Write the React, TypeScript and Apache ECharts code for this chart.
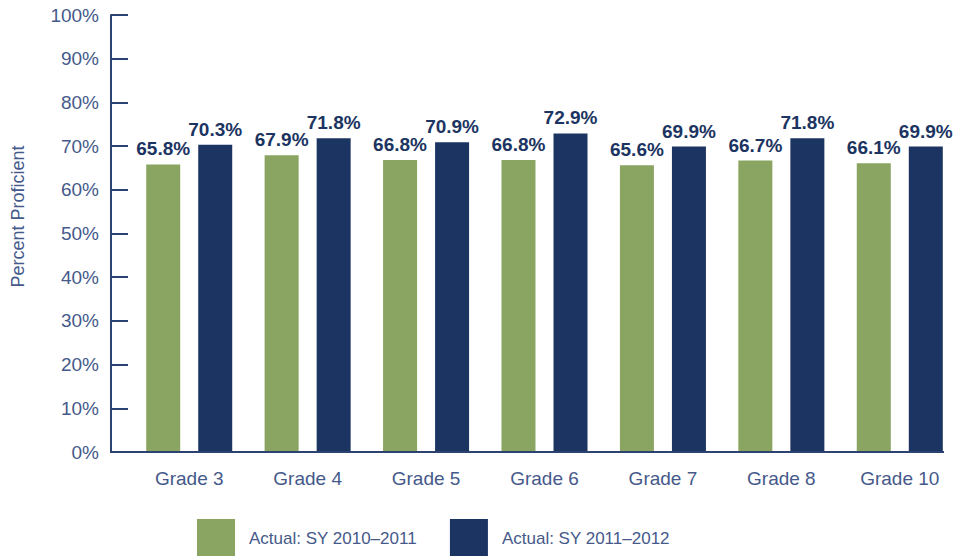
import React, { useEffect, useRef } from "react";
import * as echarts from "echarts";

const categories = ["Grade 3", "Grade 4", "Grade 5", "Grade 6", "Grade 7", "Grade 8", "Grade 10"];
const series2011 = [65.8, 67.9, 66.8, 66.8, 65.6, 66.7, 66.1];
const series2012 = [70.3, 71.8, 70.9, 72.9, 69.9, 71.8, 69.9];
const seriesNames = ["Actual: SY 2010\u20132011", "Actual: SY 2011\u20132012"];
const yTicks = [0, 10, 20, 30, 40, 50, 60, 70, 80, 90, 100];

const GREEN = "#8aa461";
const NAVY = "#1c3461";
const AXIS = "#2c4270";
const TEXT = "#45598a";
const FONT = "Liberation Sans, Arial, sans-serif";

export default function App() {
  const ref = useRef<HTMLDivElement>(null);
  useEffect(() => {
    if (!ref.current) return;
    const chart = echarts.init(ref.current, null, { renderer: "svg" });
    const label = {
      show: true,
      position: "top",
      distance: 6,
      formatter: (p: any) => p.value.toFixed(1) + "%",
      color: NAVY,
      fontWeight: "bold",
      fontSize: 19,
      fontFamily: FONT,
    };
    chart.setOption({
      animation: false,
      textStyle: { fontFamily: FONT },
      grid: { left: 130, right: 0, top: 15, bottom: 104, containLabel: false },
      legend: {
        left: 192,
        top: 514,
        itemWidth: 38,
        itemHeight: 38,
        itemGap: 33,
        icon: "rect",
        textStyle: { color: TEXT, fontSize: 17, fontFamily: FONT, padding: [0, 0, 0, 9] },
        data: seriesNames,
      },
      xAxis: {
        type: "category",
        data: categories,
        axisLine: { show: false },
        axisTick: { show: false },
        axisLabel: { color: TEXT, fontSize: 19, margin: 17, fontFamily: FONT },
      },
      yAxis: {
        type: "value",
        min: yTicks[0],
        max: yTicks[yTicks.length - 1],
        interval: 10,
        offset: 19,
        name: "Percent Proficient",
        nameLocation: "middle",
        nameGap: 84,
        nameTextStyle: { color: TEXT, fontSize: 18, fontFamily: FONT, padding: [0, 0, 0, 34] },
        axisLine: { show: true, lineStyle: { color: AXIS, width: 2 } },
        axisTick: { show: true, inside: true, length: 17, lineStyle: { color: AXIS, width: 2 } },
        splitLine: { show: false },
        axisLabel: { color: TEXT, fontSize: 19, margin: 12, formatter: "{value}%", fontFamily: FONT },
      },
      graphic: [
        {
          type: "line",
          shape: { x1: 110, y1: 452, x2: 944, y2: 452 },
          style: { stroke: AXIS, lineWidth: 2 },
          z: 10,
        },
      ],
      series: [
        {
          name: seriesNames[0],
          type: "bar",
          data: series2011,
          barWidth: 34,
          barGap: "53%",
          itemStyle: { color: GREEN },
          label,
        },
        {
          name: seriesNames[1],
          type: "bar",
          data: series2012,
          barWidth: 34,
          itemStyle: { color: NAVY },
          label,
        },
      ],
    });
    return () => chart.dispose();
  }, []);
  return <div ref={ref} style={{ width: 959, height: 556, position: "absolute", left: 0, top: 0 }} />;
}
